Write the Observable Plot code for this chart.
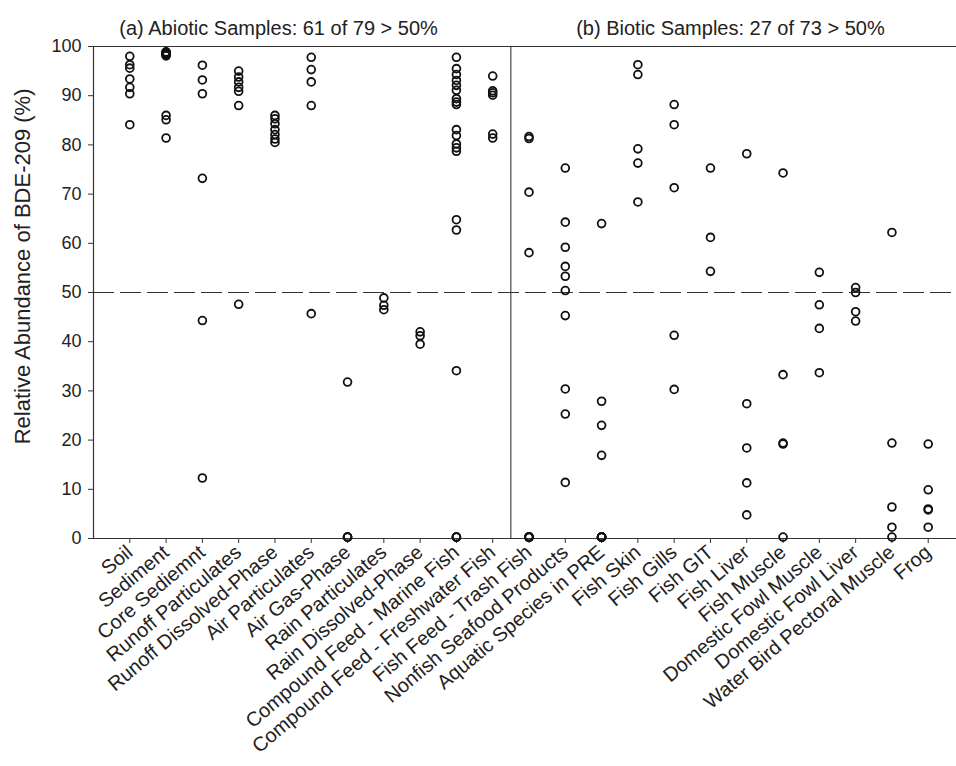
<!DOCTYPE html>
<html>
<head>
<meta charset="utf-8">
<script src="https://cdn.jsdelivr.net/npm/d3@7"></script>
<script src="https://cdn.jsdelivr.net/npm/@observablehq/plot@0.6"></script>
<style>
  html, body { margin: 0; padding: 0; background: #fff; overflow: hidden; }
</style>
</head>
<body>
<div id="chart"></div>
<script>
// Categories
const abioticCats = ["Soil", "Sediment", "Core Sediemnt", "Runoff Particulates", "Runoff Dissolved-Phase",
  "Air Particulates", "Air Gas-Phase", "Rain Particulates", "Rain Dissolved-Phase",
  "Compound Feed - Marine Fish", "Compound Feed - Freshwater Fish"];
const bioticCats = ["Fish Feed - Trash Fish", "Nonfish Seafood Products", "Aquatic Species in PRE",
  "Fish Skin", "Fish Gills", "Fish GIT", "Fish Liver", "Fish Muscle", "Domestic Fowl Muscle",
  "Domestic Fowl Liver", "Water Bird Pectoral Muscle", "Frog"];

// Relative abundance (%) per sample, one list per category
const abioticValues = [
  [98.0, 96.3, 95.6, 93.4, 91.7, 90.4, 84.1],
  [98.9, 98.8, 98.7, 98.6, 98.5, 98.4, 98.3, 98.1, 86.0, 85.1, 81.4],
  [96.2, 93.2, 90.4, 73.2, 44.3, 12.3],
  [95.0, 93.8, 92.8, 91.7, 90.9, 88.0, 47.6],
  [86.0, 85.3, 84.3, 83.1, 82.1, 81.2, 80.5],
  [97.8, 95.3, 92.8, 88.0, 45.7],
  [31.8, 0.3, 0.3, 0.3],
  [48.9, 47.4, 46.5],
  [42.0, 41.2, 39.5],
  [97.8, 95.5, 94.3, 93.1, 92.1, 91.1, 89.4, 88.7, 88.2, 83.1, 81.9, 80.2, 79.4, 78.7, 64.8, 62.7, 34.1, 0.3, 0.3, 0.3],
  [94.0, 91.0, 90.6, 90.1, 82.2, 81.4]
];
const bioticValues = [
  [81.7, 81.3, 70.4, 58.1, 0.3, 0.3, 0.3, 0.3, 0.3, 0.3, 0.3],
  [75.3, 64.3, 59.2, 55.3, 53.3, 50.4, 45.3, 30.4, 25.3, 11.4],
  [64.0, 27.9, 23.0, 16.9, 0.3, 0.3, 0.3, 0.3, 0.3, 0.3, 0.3],
  [96.3, 94.3, 79.2, 76.3, 68.4],
  [88.2, 84.1, 71.3, 41.3, 30.3],
  [75.3, 61.2, 54.3],
  [78.2, 27.4, 18.4, 11.3, 4.8],
  [74.3, 33.3, 19.4, 19.2, 0.3],
  [54.1, 47.5, 42.7, 33.7],
  [51.0, 50.0, 46.1, 44.2],
  [62.2, 19.4, 6.4, 2.3, 0.3],
  [19.2, 9.9, 6.0, 5.8, 2.3]
];

const yTicks = [0, 10, 20, 30, 40, 50, 60, 70, 80, 90, 100];
const threshold = 50;
const panelTitles = [
  {pos: 5.1, text: "(a) Abiotic Samples: 61 of 79 > 50%"},
  {pos: 17.55, text: "(b) Biotic Samples: 27 of 73 > 50%"}
];
const yLabel = "Relative Abundance of BDE-209 (%)";

const cats = abioticCats.concat(bioticCats);
const allValues = abioticValues.concat(bioticValues);
const data = [];
allValues.forEach((vals, k) => vals.forEach(v => data.push({i: k + 1, v})));
const divider = abioticCats.length + 0.5;

const chart = Plot.plot({
  width: 956,
  height: 766,
  marginLeft: 93,
  marginRight: -8,
  marginTop: 46,
  marginBottom: 228,
  style: {fontFamily: "'Liberation Sans', Arial, sans-serif", color: "#222", background: "#fff", overflow: "hidden"},
  x: {type: "linear", domain: [0, cats.length + 1], axis: null},
  y: {domain: [0, 100], axis: null},
  marks: [
    Plot.axisY({ticks: yTicks, tickSize: 5, tickPadding: 7, fontSize: 18, label: null, stroke: "#333"}),
    Plot.axisX({ticks: d3.range(1, cats.length + 1), tickSize: 5, tickPadding: 6, tickRotate: -40,
      tickFormat: i => cats[i - 1], fontSize: 20, label: null, stroke: "#333"}),
    Plot.ruleX([0], {stroke: "#333", strokeWidth: 1.2}),
    Plot.ruleY([0, 100], {stroke: "#333", strokeWidth: 1.2}),
    Plot.ruleX([divider], {stroke: "#222", strokeWidth: 1}),
    Plot.ruleY([threshold], {stroke: "#333", strokeWidth: 1, strokeDasharray: "21,6"}),
    Plot.dot(data, {x: "i", y: "v", r: 3.9, stroke: "#111", strokeWidth: 1.8, fill: "none"}),
    Plot.text(panelTitles, {x: "pos", y: () => 100, text: "text", dy: -18, fontSize: 20, fill: "#222", textAnchor: "middle"}),
    Plot.text([yLabel], {frameAnchor: "left", y: () => 55.3, text: d => d, dx: -71, rotate: -90, fontSize: 22, fill: "#222", textAnchor: "middle"})
  ]
});
document.getElementById("chart").appendChild(chart);
</script>
</body>
</html>
